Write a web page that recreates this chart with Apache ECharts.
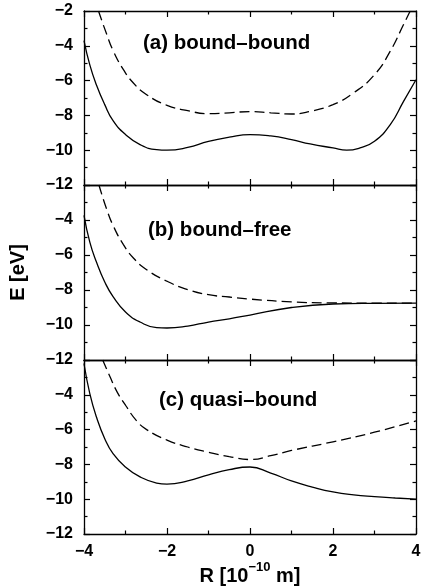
<!DOCTYPE html>
<html>
<head>
<meta charset="utf-8">
<script src="https://cdn.jsdelivr.net/npm/echarts@6/dist/echarts.min.js"></script>
<style>
  html, body { margin: 0; padding: 0; background: #fff; }
  #chart { width: 424px; height: 588px; }
</style>
</head>
<body>
<div id="chart"></div>
<script>
var dom = document.getElementById('chart');
var myChart = echarts.init(dom, null, { renderer: 'canvas' });

// panel labels
var panelNames = ['(a) bound–bound', '(b) bound–free', '(c) quasi–bound'];

// (a) bound-bound
var rASolid = [-4, -3.86, -3.7, -3.5, -3.3, -3, -2.65, -2.25, -2, -1.5, -1, -0.5, 0, 0.5, 1, 1.45, 2, 2.33, 2.65, 3, 3.38, 3.7, 4];
var eASolid = [-3.7, -5.1, -6.25, -7.38, -8.3, -9.1, -9.68, -9.97, -10.0, -9.84, -9.49, -9.25, -9.1, -9.18, -9.39, -9.64, -9.87, -10.0, -9.87, -9.49, -8.53, -7.19, -5.95];
var rADash = [-3.65, -3.45, -3.29, -3.05, -2.81, -2.49, -2, -1.5, -1, -0.5, 0, 0.5, 1, 1.45, 2, 2.5, 3, 3.38, 3.7, 3.86];
var eADash = [-2, -3.36, -4.32, -5.37, -6.14, -6.81, -7.42, -7.73, -7.9, -7.85, -7.78, -7.85, -7.92, -7.77, -7.38, -6.7, -5.66, -4.31, -2.78, -2.0];

// (b) bound-free
var rBSolid = [-4, -3.86, -3.7, -3.5, -3.3, -3, -2.65, -2.25, -2, -1.5, -1, -0.5, 0, 1, 2, 3, 4];
var eBSolid = [-3.73, -5.26, -6.4, -7.54, -8.38, -9.26, -9.83, -10.15, -10.17, -10.06, -9.83, -9.65, -9.43, -9.0, -8.8, -8.76, -8.75];
var rBDash = [-3.64, -3.45, -3.29, -3.05, -2.81, -2.49, -2, -1.5, -1, -0.5, 0, 1, 2, 3, 4];
var eBDash = [-2, -3.41, -4.36, -5.41, -6.17, -6.84, -7.5, -7.98, -8.27, -8.4, -8.52, -8.68, -8.74, -8.75, -8.75];

// (c) quasi-bound
var rCSolid = [-4, -3.86, -3.7, -3.5, -3.3, -3, -2.65, -2.25, -2, -1.5, -1, -0.5, 0, 0.5, 1, 1.5, 2, 2.5, 3, 3.5, 4];
var eCSolid = [-2.2, -3.93, -5.28, -6.52, -7.38, -8.15, -8.72, -9.07, -9.13, -8.95, -8.6, -8.3, -8.15, -8.5, -8.95, -9.3, -9.58, -9.75, -9.85, -9.93, -10.0];
var rCDash = [-3.55, -3.37, -3.21, -3, -2.73, -2.49, -2, -1.5, -1, -0.5, 0, 0.5, 1, 2, 3, 4];
var eCDash = [-2, -2.98, -3.8, -4.6, -5.5, -6.0, -6.6, -7.0, -7.3, -7.55, -7.72, -7.5, -7.2, -6.7, -6.15, -5.5];

var solids = [[rASolid, eASolid], [rBSolid, eBSolid], [rCSolid, eCSolid]];
var dashes = [[rADash, eADash], [rBDash, eBDash], [rCDash, eCDash]];

function pairs(xs, ys) {
  return xs.map(function (x, i) { return [x, ys[i]]; });
}
function minus(v) {
  return String(v).replace('-', '\u2212');
}

var font = '"Liberation Sans", Arial, sans-serif';
var gridTops = [11, 185, 360];
var gridHeights = [174, 175, 174];

var grids = [], xAxes = [], yAxes = [], series = [], texts = [];
var tickStyle = { show: true, inside: true, length: 6, lineStyle: { color: '#000', width: 1.2 } };
var minorStyle = { show: true, splitNumber: 2, length: 3.5, lineStyle: { color: '#000', width: 1.2 } };
var lineStyle = { show: true, onZero: false, lineStyle: { color: '#000', width: 1.3 } };
var labelStyle = { color: '#000', fontFamily: font, fontWeight: 'bold', fontSize: 16 };

for (var i = 0; i < 3; i++) {
  grids.push({ left: 84, right: 8, top: gridTops[i], height: gridHeights[i] });
  var xBase = {
    type: 'value', gridIndex: i, min: -4, max: 4, interval: 2,
    axisLine: lineStyle, axisTick: tickStyle, minorTick: minorStyle,
    splitLine: { show: false }
  };
  xAxes.push(Object.assign({}, xBase, {
    position: 'bottom',
    axisLabel: Object.assign({ show: i === 2, margin: 10, formatter: minus }, labelStyle),
    name: i === 2 ? '{b|R [10}{s|\u221210}{b| m]}' : '',
    nameLocation: 'middle',
    nameGap: 22,
    nameTextStyle: {
      rich: {
        b: { fontFamily: font, fontWeight: 'bold', fontSize: 20, color: '#000', lineHeight: 26, verticalAlign: 'bottom' },
        s: { fontFamily: font, fontWeight: 'bold', fontSize: 13, color: '#000', lineHeight: 26, verticalAlign: 'top' }
      }
    }
  }));
  xAxes.push(Object.assign({}, xBase, { position: 'top', axisLabel: { show: false } }));

  var yBase = {
    type: 'value', gridIndex: i, min: -12, max: -2, interval: 2,
    axisLine: lineStyle, axisTick: tickStyle, minorTick: minorStyle,
    splitLine: { show: false }
  };
  yAxes.push(Object.assign({}, yBase, {
    position: 'left',
    axisLabel: Object.assign({ margin: 11, showMaxLabel: i === 0, formatter: minus }, labelStyle),
    name: i === 1 ? 'E [eV]' : '',
    nameLocation: 'middle',
    nameGap: 56,
    nameTextStyle: { fontFamily: font, fontWeight: 'bold', fontSize: 20, color: '#000' }
  }));
  yAxes.push(Object.assign({}, yBase, { position: 'right', axisLabel: { show: false } }));

  series.push({
    type: 'line', xAxisIndex: 2 * i, yAxisIndex: 2 * i,
    data: pairs(solids[i][0], solids[i][1]),
    smooth: 0.5, showSymbol: false, clip: true,
    lineStyle: { color: '#000', width: 1.3, type: 'solid' }
  });
  series.push({
    type: 'line', xAxisIndex: 2 * i, yAxisIndex: 2 * i,
    data: pairs(dashes[i][0], dashes[i][1]),
    smooth: 0.5, showSymbol: false, clip: true,
    lineStyle: { color: '#000', width: 1.3, type: [10, 5] }
  });
}

var labelPos = [[143, 43], [148, 230], [159, 400]];
for (var k = 0; k < 3; k++) {
  texts.push({
    type: 'text', x: labelPos[k][0], y: labelPos[k][1],
    style: {
      text: panelNames[k], fill: '#000',
      font: 'bold 20.5px ' + font, textVerticalAlign: 'middle'
    }
  });
}

var option = {
  animation: false,
  backgroundColor: '#fff',
  grid: grids,
  xAxis: xAxes,
  yAxis: yAxes,
  series: series,
  graphic: texts
};

myChart.setOption(option);
window.addEventListener('resize', myChart.resize);
</script>
</body>
</html>
